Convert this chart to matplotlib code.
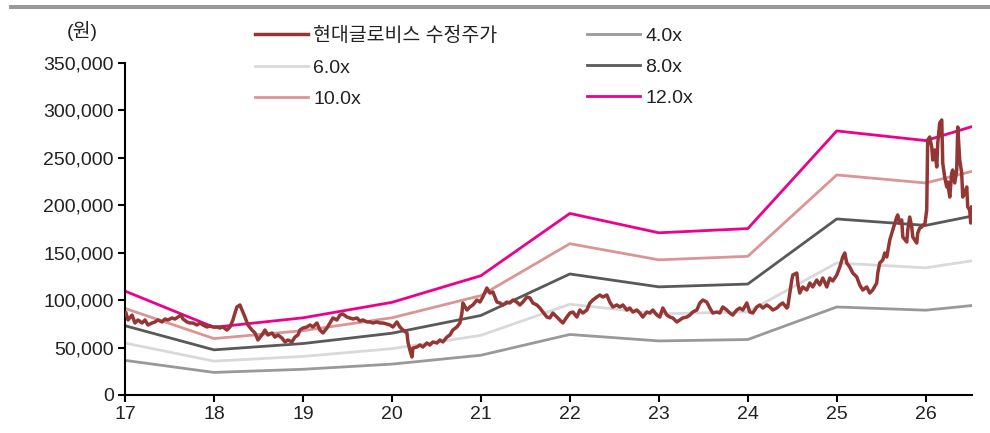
import matplotlib
matplotlib.use("Agg")
import matplotlib.pyplot as plt
from matplotlib.patches import Rectangle
from matplotlib.ticker import FuncFormatter

plt.rcParams['font.family'] = ['Liberation Sans', 'Noto Sans CJK KR', 'DejaVu Sans']

# PER band: EPS (천원) at each year point, times multiple
band_years = [17, 18, 19, 20, 21, 22, 23, 24, 25, 26, 26.52]
eps = [9.13, 5.95, 6.78, 8.14, 10.48, 15.95, 14.25, 14.62, 23.2, 22.35, 23.58]
multiples = [4.0, 6.0, 8.0, 10.0, 12.0]
band_labels = ['4.0x', '6.0x', '8.0x', '10.0x', '12.0x']
band_colors = ['#999999', '#d9d9d9', '#595959', '#d99694', '#ec008c']

# 현대글로비스 수정주가 (천원)
price_years = [
    17.011, 17.034, 17.079, 17.112, 17.146, 17.191, 17.225, 17.258, 17.303, 17.337,
    17.371, 17.416, 17.449, 17.483, 17.528, 17.562, 17.596, 17.629, 17.652, 17.697,
    17.730, 17.764, 17.809, 17.843, 17.876, 17.921, 17.955, 17.989, 18.034, 18.067,
    18.101, 18.146, 18.180, 18.213, 18.236, 18.258, 18.292, 18.315, 18.348, 18.382,
    18.427, 18.461, 18.494, 18.539, 18.573, 18.607, 18.652, 18.685, 18.719, 18.764,
    18.798, 18.831, 18.876, 18.910, 18.944,
    18.966, 19.000, 19.045, 19.079, 19.112, 19.157, 19.191, 19.225, 19.270, 19.303,
    19.337, 19.382, 19.416, 19.449, 19.494, 19.528, 19.562, 19.607, 19.640, 19.674,
    19.719, 19.753, 19.787, 19.831, 19.865, 19.899, 19.944, 19.978, 20.011, 20.056,
    20.090, 20.124, 20.169, 20.180, 20.202, 20.225, 20.236, 20.281, 20.315, 20.348,
    20.393, 20.427, 20.461, 20.506, 20.539, 20.573, 20.618, 20.652, 20.685, 20.730,
    20.764, 20.787, 20.798, 20.843, 20.876,
    20.910, 20.955, 20.989, 21.022, 21.067, 21.101, 21.135, 21.180, 21.213, 21.247,
    21.292, 21.326, 21.360, 21.404, 21.438, 21.472, 21.517, 21.551, 21.584, 21.629,
    21.663, 21.697, 21.742, 21.775, 21.809, 21.854, 21.888, 21.921, 21.966, 22.000,
    22.034, 22.079, 22.112, 22.146, 22.191, 22.225, 22.258, 22.303, 22.337, 22.371,
    22.416, 22.449, 22.483, 22.528, 22.562, 22.596, 22.640, 22.674, 22.708, 22.753,
    22.787,
    22.820, 22.865, 22.899, 22.933, 22.978, 23.011, 23.045, 23.090, 23.124, 23.157,
    23.202, 23.236, 23.270, 23.315, 23.348, 23.382, 23.427, 23.461, 23.494, 23.539,
    23.573, 23.607, 23.652, 23.685, 23.719, 23.764, 23.798, 23.831, 23.876, 23.910,
    23.944, 23.989, 24.022, 24.056, 24.101, 24.135, 24.169, 24.213, 24.247, 24.281,
    24.326, 24.360, 24.393, 24.438, 24.449, 24.472, 24.494, 24.506, 24.551, 24.562,
    24.584,
    24.618, 24.663, 24.697, 24.730, 24.775, 24.809, 24.843, 24.888, 24.921, 24.955,
    25.000, 25.034, 25.067, 25.090, 25.112, 25.146, 25.180, 25.225, 25.258, 25.292,
    25.337, 25.371, 25.404, 25.449, 25.461, 25.483, 25.517, 25.539, 25.562, 25.596,
    25.629, 25.674, 25.685, 25.708, 25.730, 25.742, 25.787, 25.798, 25.820, 25.843,
    25.854, 25.899, 25.910, 25.933, 25.955, 25.966, 25.989, 26.011, 26.022, 26.045,
    26.067, 26.079, 26.101, 26.124, 26.135, 26.157, 26.180, 26.191, 26.213, 26.236,
    26.247, 26.270, 26.292, 26.303, 26.326, 26.348, 26.360, 26.382, 26.404, 26.416,
    26.438, 26.461, 26.472, 26.494, 26.506, 26.517,
]
price = [
    86.4, 79.1, 84.3, 75.9, 79.1, 75.9, 79.1, 73.8, 75.9, 77.0,
    79.1, 77.0, 80.1, 79.1, 81.2, 80.1, 82.2, 84.3, 80.1, 77.0,
    75.9, 75.9, 73.8, 75.9, 73.8, 71.7, 72.7, 71.7, 71.7, 70.6,
    71.7, 68.5, 71.7, 79.1, 86.4, 92.8, 94.9, 89.6, 82.2, 73.8,
    68.5, 65.4, 58.0, 63.3, 68.5, 63.3, 65.4, 61.1, 63.3, 60.1,
    55.9, 58.0, 55.9, 61.1, 63.3,
    68.5, 70.6, 71.7, 73.8, 71.7, 75.9, 68.5, 65.4, 70.6, 75.9,
    81.2, 79.1, 84.3, 85.4, 82.2, 81.2, 80.1, 81.2, 78.0, 79.1,
    77.0, 77.0, 75.9, 77.0, 75.9, 75.9, 74.8, 73.8, 71.7, 77.0,
    71.7, 68.5, 65.4, 55.9, 47.4, 40.1, 49.5, 50.6, 52.7, 50.6,
    54.8, 52.7, 55.9, 54.8, 58.0, 55.9, 61.1, 63.3, 68.5, 71.7,
    75.9, 86.4, 97.0, 89.6, 92.8,
    94.9, 100.1, 98.0, 103.3, 112.8, 107.5, 108.6, 98.0, 97.0, 94.9,
    98.0, 97.0, 100.1, 98.0, 94.9, 98.0, 103.3, 102.3, 97.0, 94.9,
    91.7, 87.5, 82.2, 81.2, 86.4, 82.2, 79.1, 75.9, 82.2, 86.4,
    87.5, 82.2, 89.6, 86.4, 89.6, 97.0, 100.1, 103.3, 105.4, 103.3,
    105.4, 98.0, 92.8, 94.9, 92.8, 94.9, 89.6, 91.7, 87.5, 89.6,
    86.4,
    82.2, 87.5, 86.4, 89.6, 84.3, 82.2, 91.7, 84.3, 82.2, 81.2,
    77.0, 79.1, 81.2, 82.2, 84.3, 87.5, 89.6, 97.0, 100.1, 98.0,
    91.7, 86.4, 87.5, 86.4, 92.8, 89.6, 86.4, 84.3, 89.6, 91.7,
    89.6, 97.0, 87.5, 86.4, 92.8, 94.9, 91.7, 94.9, 92.8, 89.6,
    91.7, 94.9, 97.0, 91.7, 92.8, 107.5, 121.2, 126.5, 128.6, 118.1,
    107.5,
    113.9, 110.7, 118.1, 113.9, 121.2, 116.0, 123.3, 113.9, 123.3, 120.2,
    126.5, 134.9, 145.5, 149.7, 139.2, 134.9, 128.6, 124.4, 116.0, 110.7,
    113.9, 107.5, 110.7, 118.1, 128.6, 139.2, 142.3, 149.7, 145.5, 163.4,
    173.9, 187.6, 189.8, 181.3, 184.5, 166.6, 161.3, 173.9, 187.6, 177.1,
    166.6, 160.2, 170.8, 176.1, 177.1, 179.2, 179.2, 195.0, 268.8, 272.0,
    261.4, 247.7, 258.3, 240.4, 265.7, 286.7, 289.9, 244.6, 229.8, 219.3,
    224.5, 208.7, 234.0, 237.2, 223.5, 237.2, 282.5, 247.7, 234.0, 208.7,
    213.0, 219.3, 198.2, 195.0, 181.3, 198.2,
]

year_ticks = list(range(17, 27))
y_ticks = list(range(0, 350001, 50000))

fig = plt.figure(figsize=(9.9, 4.33), dpi=100)
ax = fig.add_axes([0.12626, 0.08776, 0.85556, 0.76674])

band_handles = []
for m, lab, c in zip(multiples, band_labels, band_colors):
    h, = ax.plot(band_years, [e * m * 1000 for e in eps], color=c, lw=2.0, label=lab)
    band_handles.append(h)
hp, = ax.plot(price_years, [p * 1000 for p in price], color='#943634', lw=2.5,
              label='현대글로비스 수정주가', zorder=5)

ax.set_xlim(17, 26.52)
ax.set_ylim(0, 350000)
ax.set_xticks(year_ticks)
ax.set_xticklabels([str(y) for y in year_ticks])
ax.set_yticks(y_ticks)
ax.yaxis.set_major_formatter(FuncFormatter(lambda v, _: f'{int(v):,}'))
ax.tick_params(axis='both', labelsize=14, length=5, width=1.5, pad=3, colors='black', labelcolor='#222222')
for s in ['top', 'right']:
    ax.spines[s].set_visible(False)
for s in ['left', 'bottom']:
    ax.spines[s].set_linewidth(1.5)

fig.text(82 / 990, 1 - 31 / 433, '(원)', fontsize=14, ha='center', va='center', color='#222222')

# top gray rule
fig.add_artist(Rectangle((9 / 990, 1 - 9 / 433), 1, 4 / 433, transform=fig.transFigure,
                         color='#999999', lw=0))

leg_kw = dict(frameon=False, fontsize=14, handlelength=2.75, handletextpad=0.25,
              labelspacing=0.7, borderpad=0, borderaxespad=0, loc='upper left')
l1 = fig.legend([hp, band_handles[1], band_handles[3]],
                ['현대글로비스 수정주가', '6.0x', '10.0x'],
                bbox_to_anchor=(255 / 990, 1 - 27 / 433), **leg_kw)
l2 = fig.legend([band_handles[0], band_handles[2], band_handles[4]],
                ['4.0x', '8.0x', '12.0x'],
                bbox_to_anchor=(587 / 990, 1 - 27 / 433), **leg_kw)
for l in (l1, l2):
    for t in l.get_texts():
        t.set_color('#222222')

fig.savefig('out.png', dpi=100)
